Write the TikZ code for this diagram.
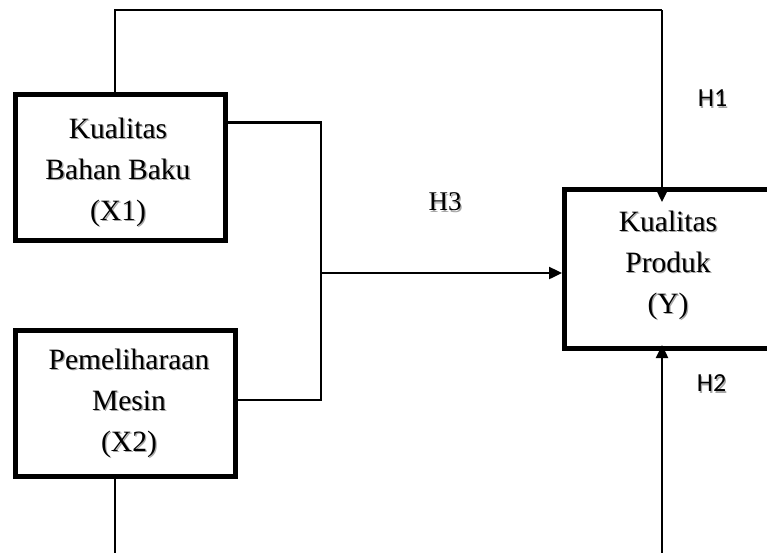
\documentclass[tikz,border=0pt]{standalone}
\usepackage{fontspec}
\setmainfont{Liberation Serif}
\newfontfamily\hfont{Carlito}
\usetikzlibrary{arrows.meta,calc}
\newcommand{\shtext}[4]{% name, position, style, text
  \node[#3,text=black!35,xshift=1.3pt,yshift=-1.3pt] at (#2) {#4};
  \node[#3] (#1) at (#2) {#4};}
\begin{document}
\begin{tikzpicture}[x=1pt,y=-1pt,
  box/.style={draw,line width=5pt,inner sep=0pt},
  conn/.style={line width=2.4pt},
  arr/.style={conn,-{Triangle[length=13pt,width=12pt]}},
  txt/.style={align=center,font=\fontsize{29.5}{41}\selectfont,inner sep=0pt},
  txtb/.style={align=center,font=\fontsize{29.5}{41}\selectfont,inner sep=0pt},
  txtc/.style={align=center,font=\fontsize{29.5}{41}\selectfont,inner sep=0pt},
  hsans/.style={font=\hfont\fontsize{26}{28}\selectfont,inner sep=0pt},
  hserif/.style={font=\fontsize{27}{30}\selectfont,inner sep=0pt}]
\useasboundingbox (0,0) rectangle (767,552);
\clip (0,0) rectangle (767,552);
% boxes
\node[box,minimum width=210pt,minimum height=146pt] (X1) at (120.5,167.5) {};
\node[box,minimum width=220pt,minimum height=146pt] (X2) at (125.5,403) {};
\node[box,minimum width=210pt,minimum height=159pt] (Y) at (669.5,269) {};
% texts
\shtext{tX1}{118,172}{txt}{Kualitas\\Bahan Baku\\(X1)}
\shtext{tX2}{129,403.5}{txtb}{Pemeliharaan\\Mesin\\(X2)}
\shtext{tY}{668,265}{txtc}{Kualitas\\Produk\\(Y)}
\shtext{H1}{712.5,98.5}{hsans}{H1}
\shtext{H2}{711.5,383.5}{hsans}{H2}
\shtext{H3}{445,202}{hserif}{H3}
% coordinates
\coordinate (top1) at (115,10);
\coordinate (top2) at (662,10);
\coordinate (bot1) at (115,553);
\coordinate (bot2) at (662,553);
\coordinate (mid) at (321,273);
% connectors
\draw[conn] (X1.north -| top1) -- (top1) -- (top2);
\draw[arr] (top2) -- ([yshift=-15pt]Y.north -| top2);
\draw[conn] (X1.east |- 0,122.5) -| (mid);
\draw[conn] (X2.east |- 0,400) -| (mid);
\draw[arr] (mid) -- (Y.west |- mid);
\draw[conn] (X2.south -| bot1) -- (bot1);
\draw[arr] (bot2) -- ([yshift=6pt]Y.south -| bot2);
\end{tikzpicture}
\end{document}
